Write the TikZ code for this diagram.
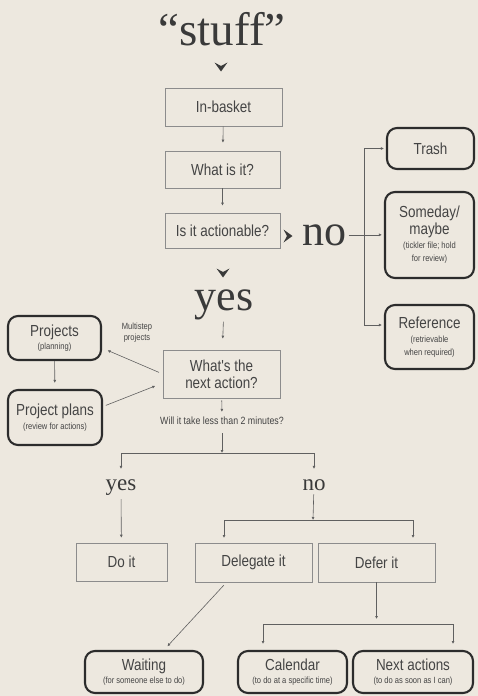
\documentclass[tikz,border=0pt]{standalone}
\usepackage{fontspec}
\newfontfamily\boxfont[FakeStretch=0.84]{Liberation Sans}
\newfontfamily\wordfont{Liberation Serif}
\usetikzlibrary{arrows.meta}

\definecolor{paper}{HTML}{EDE8DF}
\definecolor{ink}{HTML}{444444}
\definecolor{wordink}{HTML}{3A3A3A}
\definecolor{rulegray}{HTML}{8C8C8C}
\definecolor{framedark}{HTML}{2C2C2C}

\newcommand{\smallnote}[1]{{\fontsize{9}{10}\selectfont #1}}
% filled chevrons that stand between the big words
\newcommand{\chevdown}[1]{\fill[wordink] (#1) ++(-6.5,-4.5) -- ++(6.5,9) -- ++(6.5,-9) -- ++(-6.5,3.5) -- cycle;}
\newcommand{\chevright}[1]{\fill[wordink] (#1) ++(-4.5,-6.5) -- ++(9,6.5) -- ++(-9,6.5) -- ++(3.5,-6.5) -- cycle;}

\begin{document}
\begin{tikzpicture}[
    % one unit is one pixel of the page, y runs downwards
    x=1pt, y=-1pt,
    procbox/.style={draw=rulegray, line width=0.6pt, text=ink, inner sep=0pt,
        align=center, font=\boxfont\fontsize{16}{17}\selectfont},
    endbox/.style={draw=framedark, line width=2.1pt, rounded corners=10pt, text=ink,
        inner sep=0pt, align=center, font=\boxfont\fontsize{16}{17}\selectfont},
    bigword/.style={text=wordink, inner sep=0pt, font=\wordfont\fontsize{44}{44}\selectfont},
    midword/.style={text=wordink, inner sep=0pt, font=\wordfont\fontsize{23}{23}\selectfont},
    note/.style={text=ink, inner sep=0pt, align=center,
        font=\boxfont\fontsize{10.5}{12}\selectfont},
    flow/.style={draw=ink!85, line width=0.6pt, -{Latex[length=3pt,width=3pt]}}
]
    % --- Page ---
    \fill[paper] (0,0) rectangle (478,696);
    \useasboundingbox (0,0) rectangle (478,696);

    % --- Main column ---
    \node[bigword, font=\wordfont\fontsize{47}{47}\selectfont, anchor=base] (stuff) at (222,45) {“stuff”};
    \chevdown{221,67}
    \node[procbox, minimum width=117, minimum height=38] (inbasket) at (223.5,107) {In-basket};
    \node[procbox, minimum width=115, minimum height=37] (whatis) at (222.5,169.5) {What is it?};
    \node[procbox, minimum width=115, minimum height=35] (actionable) at (222.5,230.5) {Is it actionable?};
    \chevdown{223,273}
    \node[bigword, anchor=base] (yes) at (224,310) {yes};
    \node[procbox, minimum width=117, minimum height=48] (nextaction) at (221.5,374) {What's the\\next action?};
    \node[note] (quest) at (222,421) {Will it take less than 2 minutes?};

    % --- Not actionable ---
    \chevright{288,236}
    \node[bigword, anchor=base] (no) at (324.5,245) {no};
    \node[endbox, minimum width=87, minimum height=41] (trash) at (430.5,148.5) {Trash};
    \node[endbox, minimum width=89, minimum height=86] (someday) at (429.5,235)
        {Someday/\\maybe\\[-3pt]\smallnote{(tickler file; hold}\\[-4pt]\smallnote{for review)}};
    \node[endbox, minimum width=89, minimum height=64] (reference) at (429.5,337)
        {Reference\\[-3pt]\smallnote{(retrievable}\\[-4pt]\smallnote{when required)}};

    % --- Projects ---
    \node[endbox, minimum width=93, minimum height=44] (projects) at (54.5,338)
        {Projects\\[-4pt]\smallnote{(planning)}};
    \node[endbox, minimum width=94, minimum height=55] (plans) at (55,417.5)
        {Project plans\\[-3pt]\smallnote{(review for actions)}};
    \node[note, font=\boxfont\fontsize{9}{11}\selectfont] (multistep) at (137,333) {Multistep\\projects};

    % --- Two-minute rule ---
    \node[midword, anchor=base] (yessmall) at (121,490) {yes};
    \node[midword, anchor=base] (nosmall) at (314,490) {no};
    \node[procbox, minimum width=91, minimum height=38] (doit) at (121.5,562) {Do it};
    \node[procbox, minimum width=117, minimum height=39] (delegate) at (253.5,562.5) {Delegate it};
    \node[procbox, minimum width=117, minimum height=39] (defer) at (376.5,562.5) {Defer it};
    \node[endbox, minimum width=118, minimum height=42] (waiting) at (144,672)
        {Waiting\\[-4pt]\smallnote{(for someone else to do)}};
    \node[endbox, minimum width=109, minimum height=42] (calendar) at (292.5,672)
        {Calendar\\[-4pt]\smallnote{(to do at a specific time)}};
    \node[endbox, minimum width=120, minimum height=42] (nextactions) at (413,672)
        {Next actions\\[-4pt]\smallnote{(to do as soon as I can)}};

    % --- Junctions ---
    \coordinate (nosplit) at (364,236);
    \coordinate (twomin) at (222,453);
    \coordinate (nojoin) at (313,520);
    \coordinate (deferjoin) at (376.5,624);
    \coordinate (dlgin) at (224,543);
    \coordinate (dfrin) at (413,543);
    \coordinate (calin) at (263,651);
    \coordinate (nxtin) at (453,651);

    % --- Connectors ---
    \draw[flow, shorten >=8pt] (inbasket) -- (whatis);
    \draw[flow, shorten >=7pt] (whatis) -- (actionable);
    \draw[flow, shorten <=2pt, shorten >=11pt] (yes) -- (nextaction);
    \draw[flow, shorten <=2pt, shorten >=2pt] (no.east) -- (no.east -| someday.west);
    \draw[flow, shorten >=2pt] (nosplit) |- (trash.west);
    \draw[flow, shorten >=2pt] (nosplit) |- ([yshift=12pt]reference.west);

    \draw[flow, shorten <=4pt, shorten >=6pt] (nextaction.west) -- ([yshift=-10pt]projects.east);
    \draw[flow, shorten <=3pt, shorten >=8pt] ([yshift=11pt]plans.east) -- ([yshift=-9pt]nextaction.west);
    \draw[flow, shorten >=6pt] (projects) -- (plans);

    \draw[flow, shorten <=2pt, shorten >=5pt] (nextaction) -- (quest);
    \draw[flow, shorten <=8pt] (quest) -- (twomin);
    \draw[flow, shorten >=10pt] (twomin) -| (yessmall.north);
    \draw[flow, shorten >=10pt] (twomin) -| (nosmall.north);
    \draw[flow, shorten <=4pt, shorten >=5pt] (yessmall) -- (doit);
    \draw[flow, shorten <=4pt] (nosmall) -- (nojoin);
    \draw[flow, shorten >=5pt] (nojoin) -| (dlgin);
    \draw[flow, shorten >=5pt] (nojoin) -| (dfrin);

    \draw[flow, shorten <=4pt, shorten >=5pt] ([xshift=-27pt]delegate.south) -- ([xshift=20pt]waiting.north);
    \draw[flow, shorten >=5pt] (defer) -- (deferjoin);
    \draw[flow, shorten >=7pt] (deferjoin) -| (calin);
    \draw[flow, shorten >=7pt] (deferjoin) -| (nxtin);
\end{tikzpicture}
\end{document}
